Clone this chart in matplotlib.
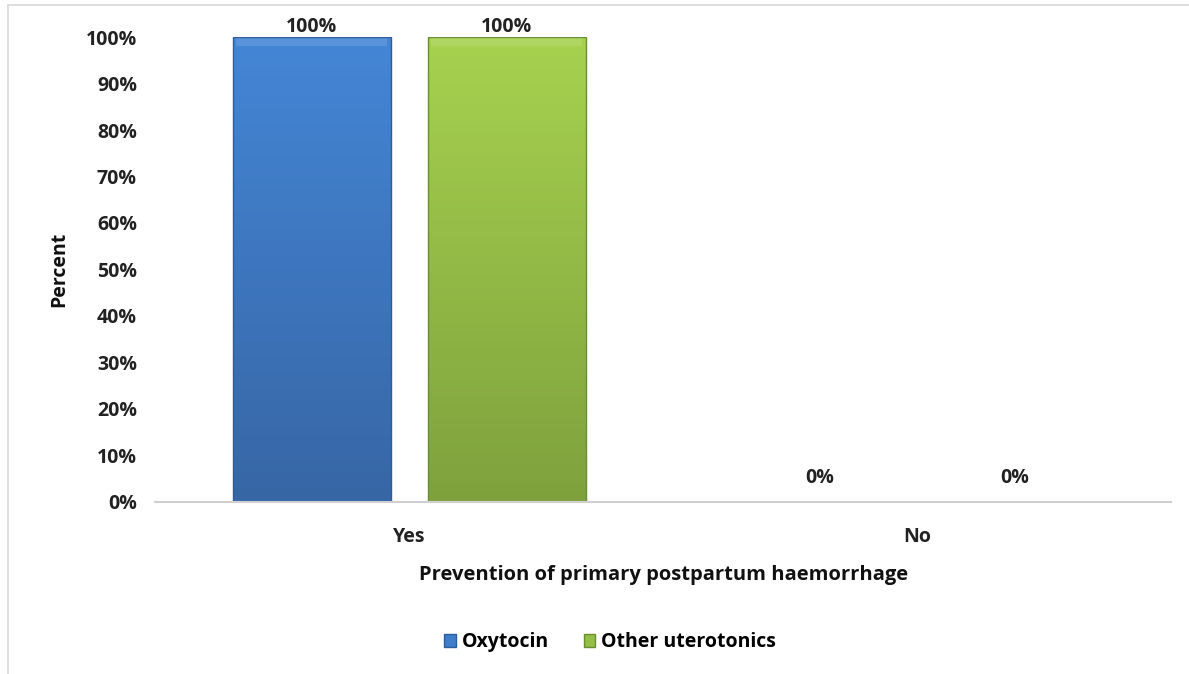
import matplotlib
matplotlib.use("Agg")
import matplotlib.pyplot as plt
from matplotlib.lines import Line2D
from matplotlib.patches import Patch
from matplotlib.colors import LinearSegmentedColormap
import numpy as np

plt.rcParams['font.family'] = ['Open Sans', 'DejaVu Sans']
plt.rcParams['font.weight'] = 'bold'

categories = ["Yes", "No"]
series_names = ["Oxytocin", "Other uterotonics"]
oxytocin = [100, 0]
other = [100, 0]
yticks = [0, 10, 20, 30, 40, 50, 60, 70, 80, 90, 100]

colors = ["#3F7ECB", "#93BF47"]
grad = [("#4486D6", "#3766A5"), ("#A6D24F", "#7FA13D")]
edges = ["#2E5E9A", "#6A8E33"]
FS = 14

fig = plt.figure(figsize=(11.89, 6.74), dpi=100)
ax = fig.add_axes([0.1304, 0.2552, 0.8546, 0.6899])

x = np.arange(len(categories))
w = 0.311
off = 0.192
bars1 = ax.bar(x - off, oxytocin, w, color=colors[0], linewidth=0, label=series_names[0])
bars2 = ax.bar(x + off, other, w, color=colors[1], linewidth=0, label=series_names[1])

# vertical gradient fill clipped to each bar, then outline on top
for bars, (ctop, cbot), ec in ((bars1, grad[0], edges[0]), (bars2, grad[1], edges[1])):
    cmap = LinearSegmentedColormap.from_list("g", [cbot, ctop])
    for b in bars:
        h = b.get_height()
        if h <= 0:
            continue
        x0 = b.get_x()
        bw = b.get_width()
        img = ax.imshow(np.linspace(0, 1, 256).reshape(-1, 1), cmap=cmap, origin='lower',
                        extent=[x0, x0 + bw, 0, h], aspect='auto', zorder=2.1)
        img.set_clip_path(b)
        ax.bar(x0 + bw / 2, 1.6, bw * 0.96, bottom=h - 1.9,
               color='white', alpha=0.12, linewidth=0, zorder=2.2)
        ax.bar(x0 + bw / 2, h, bw, fill=False, edgecolor=ec, linewidth=1.0, zorder=2.3)

for bars, vals in ((bars1, oxytocin), (bars2, other)):
    for b, v in zip(bars, vals):
        ax.annotate(f"{v}%", (b.get_x() + b.get_width() / 2, v), xytext=(0, 0 if v > 0 else 10),
                    textcoords='offset points', ha='center', va='bottom',
                    fontsize=FS, fontweight='bold', color='#222222')

ax.set_xlim(-0.5, 1.5)
ax.set_ylim(0, 100)
ax.set_yticks(yticks)
ax.set_yticklabels([f"{t}%" for t in yticks])
ax.set_xticks(x)
ax.set_xticklabels(categories)
ax.tick_params(axis='both', length=0, labelsize=FS, colors='#222222')
ax.tick_params(axis='y', pad=13)
ax.tick_params(axis='x', pad=18)
for s in ['top', 'right', 'left']:
    ax.spines[s].set_visible(False)
ax.spines['bottom'].set_color('#D0D0D0')
ax.spines['bottom'].set_linewidth(1.5)

ax.set_ylabel("Percent", fontsize=FS, fontweight='bold', labelpad=12, color='#111111')
ax.set_xlabel("Prevention of primary postpartum haemorrhage", fontsize=14.5, fontweight='bold',
              labelpad=13, color='#111111')

handles = [Patch(facecolor=colors[0], edgecolor=edges[0]), Patch(facecolor=colors[1], edgecolor=edges[1])]
fig.legend(handles, series_names, loc='center', bbox_to_anchor=(0.513, 0.047), ncol=2, frameon=False,
           handlelength=0.6, handleheight=0.6, handletextpad=0.3, columnspacing=1.8,
           prop={'weight': 'bold', 'size': FS})

# outer frame
fig.add_artist(Line2D([8/1189, 1.0], [1 - 5/674, 1 - 5/674], color='#D9D9D9', lw=1.2, transform=fig.transFigure))
fig.add_artist(Line2D([8/1189, 8/1189], [1 - 5/674, 0.0], color='#D9D9D9', lw=1.2, transform=fig.transFigure))

fig.savefig("out.png", dpi=100, facecolor='white')
